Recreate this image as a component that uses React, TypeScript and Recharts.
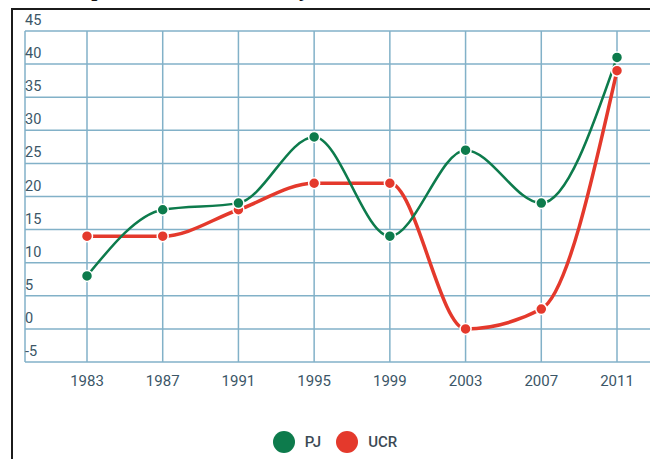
import { LineChart, Line, XAxis, YAxis, CartesianGrid, Legend } from "recharts";

// election years on the x axis
const years = ["1983", "1987", "1991", "1995", "1999", "2003", "2007", "2011"];
// seats / share per party
const pjValues = [8, 18, 19, 29, 14, 27, 19, 41];
const ucrValues = [14, 14, 18, 22, 22, 0, 3, 39];
const yTicks = [-5, 0, 5, 10, 15, 20, 25, 30, 35, 40, 45];

const PJ_COLOR = "#0d7b4c";
const UCR_COLOR = "#e4392c";
const TICK_COLOR = "#3b5667";
const GRID_COLOR = "#82b1c8";

const data = years.map((year, i) => ({
  year,
  PJ: pjValues[i],
  UCR: ucrValues[i],
}));

const YTick = (props: any) => {
  const { x, y, payload } = props;
  return (
    <text
      x={x}
      y={y - 6}
      textAnchor="start"
      fill={TICK_COLOR}
      fontSize={14.5}
      fontFamily="Roboto"
    >
      {payload.value}
    </text>
  );
};

const LegendContent = () => {
  const items = [
    { name: "PJ", color: PJ_COLOR },
    { name: "UCR", color: UCR_COLOR },
  ];
  return (
    <div
      style={{
        height: 34,
        display: "flex",
        justifyContent: "center",
        alignItems: "center",
        gap: 15,
        paddingRight: 14,
        fontFamily: "Roboto",
        fontSize: 15,
        fontWeight: 500,
        color: "#3b4a55",
      }}
    >
      {items.map((item) => (
        <div key={item.name} style={{ display: "flex", alignItems: "center", gap: 10 }}>
          <div
            style={{
              width: 22,
              height: 22,
              borderRadius: "50%",
              background: item.color,
            }}
          />
          <span>{item.name}</span>
        </div>
      ))}
    </div>
  );
};

export default function App() {
  return (
    <div
      style={{
        position: "absolute",
        left: 0,
        top: 0,
        width: 650,
        height: 459,
        overflow: "hidden",
        background: "#fff",
      }}
    >
      {/* cut-off title of the scanned page, only the descenders show */}
      <div
        style={{
          position: "absolute",
          left: 46,
          top: -22,
          fontFamily: "'Liberation Serif', serif",
          fontWeight: "bold",
          fontSize: 22,
          lineHeight: "22px",
          whiteSpace: "nowrap",
          color: "#111",
        }}
      >
        Comparación de votos: PJ y UCR
      </div>
      {/* frame of the figure */}
      <div
        style={{
          position: "absolute",
          left: 11,
          top: 8,
          width: 660,
          height: 470,
          borderLeft: "2px solid #1b1b1b",
          borderTop: "2px solid #1b1b1b",
        }}
      />
      <LineChart
        width={660}
        height={459}
        data={data}
        margin={{ top: 31, right: 0, left: 24, bottom: 0 }}
      >
        <CartesianGrid stroke={GRID_COLOR} strokeWidth={1.5} />
        <XAxis
          dataKey="year"
          axisLine={false}
          tickLine={false}
          tickMargin={7}
          height={63}
          padding={{ left: 62, right: 43 }}
          tick={{ fontSize: 15, fill: TICK_COLOR, fontFamily: "Roboto" }}
          interval={0}
        />
        <YAxis
          domain={[-5, 45]}
          ticks={yTicks}
          axisLine={false}
          tickLine={false}
          tickSize={0}
          tickMargin={0}
          width={1}
          tick={<YTick />}
          interval={0}
        />
        <Legend verticalAlign="bottom" content={<LegendContent />} />
        <Line
          type="monotone"
          dataKey="UCR"
          stroke={UCR_COLOR}
          strokeWidth={3.5}
          dot={{ r: 5.5, fill: UCR_COLOR, stroke: "#fff", strokeWidth: 1.5 }}
          isAnimationActive={false}
        />
        <Line
          type="monotone"
          dataKey="PJ"
          stroke={PJ_COLOR}
          strokeWidth={2.5}
          dot={{ r: 5.5, fill: PJ_COLOR, stroke: "#fff", strokeWidth: 1.5 }}
          isAnimationActive={false}
        />
      </LineChart>
    </div>
  );
}
